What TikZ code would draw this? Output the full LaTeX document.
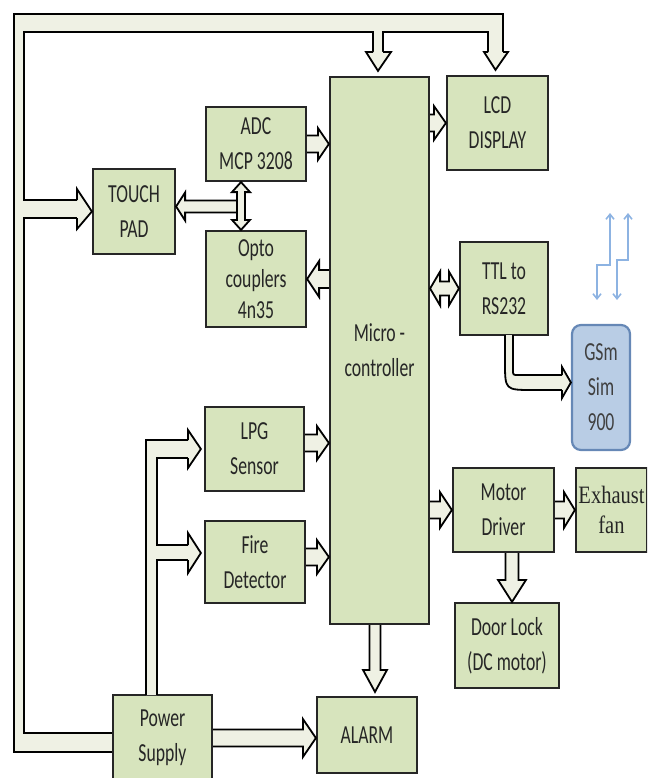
\documentclass[tikz,border=0pt]{standalone}
\usepackage{fontspec}
\setmainfont[FakeStretch=0.68]{Carlito}
\newfontfamily\serifold[FakeStretch=0.82]{Liberation Serif}
\usetikzlibrary{arrows.meta,calc}
\definecolor{boxgreen}{HTML}{D7E4BD}
\definecolor{arrcream}{HTML}{EFF1E4}
\definecolor{gsmblue}{HTML}{B9CDE5}
\definecolor{gsmedge}{HTML}{6688B6}
\definecolor{radioblue}{HTML}{8DB3E2}
% block arrow: start, end, half shaft, half head, head length
\newcommand{\fatarrow}[5]{%
  \coordinate (fs) at #1; \coordinate (fe) at #2;
  \coordinate (fb) at ($(fe)!#5!(fs)$);
  \filldraw[fatarr] ($(fs)!#3!90:(fe)$) -- ($(fb)!#3!-90:(fs)$) -- ($(fb)!#4!-90:(fs)$)
    -- (fe) -- ($(fb)!#4!90:(fs)$) -- ($(fb)!#3!90:(fs)$) -- ($(fs)!#3!-90:(fe)$);}
\newcommand{\fatarrowboth}[5]{%
  \coordinate (fs) at #1; \coordinate (fe) at #2;
  \coordinate (fa) at ($(fs)!#5!(fe)$); \coordinate (fb) at ($(fe)!#5!(fs)$);
  \filldraw[fatarr] (fs) -- ($(fa)!#4!90:(fe)$) -- ($(fa)!#3!90:(fe)$) -- ($(fb)!#3!-90:(fs)$)
    -- ($(fb)!#4!-90:(fs)$) -- (fe) -- ($(fb)!#4!90:(fs)$) -- ($(fb)!#3!90:(fs)$)
    -- ($(fa)!#3!-90:(fe)$) -- ($(fa)!#4!-90:(fe)$) -- cycle;}

\begin{document}
\begin{tikzpicture}[x=1pt, y=-1pt,
  blk/.style={draw=black!85, line width=2.2pt, fill=boxgreen, align=center, inner sep=2pt,
    text=black!85, font=\fontsize{26}{35}\selectfont},
  gsmbox/.style={blk, draw=gsmedge, fill=gsmblue, rounded corners=9pt, text=black!75},
  fatarr/.style={fill=arrcream, draw=black, line width=1.8pt, line join=miter},
  fatline/.style={draw=black, line width=1.8pt},
  radio/.style={draw=radioblue, line width=1.6pt,
    {Straight Barb[length=5pt,width=8pt]}-{Straight Barb[length=5pt,width=8pt]}}]
\clip (0,0) rectangle (647,778);
\node[blk, minimum width=99pt, minimum height=547pt] (mcu) at (379.5,350.5) {Micro -\\controller};
\node[blk, minimum width=101pt, minimum height=94pt] (lcd) at (497.5,123) {LCD\\DISPLAY};
\node[blk, minimum width=100pt, minimum height=74pt] (adc) at (256,144) {ADC\\MCP 3208};
\node[blk, minimum width=82pt, minimum height=85pt] (touch) at (134,211.5) {TOUCH\\PAD};
\node[blk, minimum width=100pt, minimum height=96pt, font=\fontsize{26}{31}\selectfont] (opto) at (256,279) {Opto\\couplers\\4n35};
\node[blk, minimum width=88pt, minimum height=93pt] (ttl) at (504,288.5) {TTL to\\RS232};
\node[gsmbox, minimum width=58pt, minimum height=125pt] (gsm) at (601,387.5) {GSm\\Sim\\900};
\node[blk, minimum width=99pt, minimum height=84pt] (lpg) at (254.5,449) {LPG\\Sensor};
\node[blk, minimum width=100pt, minimum height=82pt] (fire) at (255,562) {Fire\\Detector};
\node[blk, minimum width=101pt, minimum height=84pt] (motor) at (503.5,510) {Motor\\Driver};
\node[blk, minimum width=71pt, minimum height=84pt, inner sep=0pt,
  font=\serifold\fontsize{25}{30}\selectfont] (fan) at (611.5,510) {Exhaust\\fan};
\node[blk, minimum width=104pt, minimum height=85pt] (door) at (507,645.5) {Door Lock\\(DC motor)};
\node[blk, minimum width=100pt, minimum height=76pt] (alarm) at (367,735) {ALARM};
\node[blk, minimum width=99pt, minimum height=86pt] (power) at (162.5,738) {Power\\Supply};

% supply bus round the frame
\fill[arrcream] (power.west |- 0,733) -- (24,733) -- (24,32) -- (373,32) -- (373,52) -- (383,52)
  -- (383,32) -- (488,32) -- (488,52) -- (503,52) -- (503,14) -- (14,14) -- (14,752)
  -- (power.west |- 0,752) -- cycle;
\fill[arrcream] (24,200) rectangle (77,218);
\draw[fatline] (power.west |- 0,752) -- (14,752) -- (14,14) -- (503,14) -- (503,52);
\draw[fatline] (power.west |- 0,733) -- (24,733) -- (24,218) -- (77,218);
\draw[fatline] (77,200) -- (24,200) -- (24,32) -- (373,32) -- (373,52);
\draw[fatline] (383,52) -- (383,32) -- (488,32) -- (488,52);
\filldraw[fatarr] (77,218) -- (77,229) -- (touch.west) -- (77,189) -- (77,200);
\filldraw[fatarr] (373,52) -- (366,52) -- ($(mcu.north)+(-1.5,-5)$) -- (391,52) -- (383,52);
\filldraw[fatarr] (488,52) -- (484,52) -- ($(lcd.north)+(-2,-5)$) -- (508,52) -- (503,52);

% supply to the sensors
\fill[arrcream] (146,695) -- (146,440) -- (188,440) -- (188,458) -- (157,458) -- (157,545)
  -- (188,545) -- (188,560) -- (157,560) -- (157,695) -- cycle;
\draw[fatline] (146,695) -- (146,440) -- (188,440);
\draw[fatline] (188,458) -- (157,458) -- (157,545) -- (188,545);
\draw[fatline] (188,560) -- (157,560) -- (157,695);
\filldraw[fatarr] (188,440) -- (188,430) -- ($(lpg.west)+(-3,0)$) -- (188,468) -- (188,458);
\filldraw[fatarr] (188,545) -- (188,533) -- ($(fire.west)+(-3,-9)$) -- (188,573) -- (188,560);

% TTL to GSm
\fill[arrcream] (505,335) -- (505,362) .. controls (505,390) .. (533,390) -- (562,390) -- (562,375)
  -- (518,375) .. controls (513,375) .. (513,370) -- (513,335) -- cycle;
\draw[fatline] (505,335) -- (505,362) .. controls (505,390) .. (533,390) -- (562,390);
\draw[fatline] (513,335) -- (513,370) .. controls (513,375) .. (518,375) -- (562,375);
\filldraw[fatarr] (562,390) -- (562,398) -- ($(gsm.west)+(0,-5)$) -- (562,367) -- (562,375);

% antenna
\draw[radio] (610,213) -- (610,265) -- (597,265) -- (597,300);
\draw[radio] (628,213) -- (628,260) -- (617,260) -- (617,300);

\fatarrow{(adc.east)}{(adc.east -| mcu.west)}{8.5pt}{16pt}{11pt}
\fatarrow{(lcd.west -| mcu.east)}{(lcd.west)}{8.5pt}{17pt}{12pt}
\fatarrow{(opto.east -| mcu.west)}{(opto.east)}{9pt}{18pt}{12pt}
\fatarrowboth{(ttl.west -| mcu.east)}{(ttl.west)}{7pt}{17pt}{10pt}
\fatarrow{($(lpg.east)+(0,-6)$)}{($(lpg.east -| mcu.west)+(0,-6)$)}{8.5pt}{17pt}{12pt}
\fatarrow{($(fire.east)+(0,-5)$)}{($(fire.east -| mcu.west)+(0,-5)$)}{8.5pt}{17pt}{12pt}
\fatarrow{(motor.west -| mcu.east)}{(motor.west)}{8.5pt}{18pt}{12pt}
\fatarrow{(motor.east)}{(fan.west)}{8.5pt}{18pt}{11pt}
\coordinate (md) at ($(motor.south)+(8.5,0)$);
\fatarrow{(md)}{(md |- door.north)}{6.5pt}{14pt}{22pt}
\coordinate (ms) at ($(mcu.south)+(-4.5,0)$);
\fatarrow{(ms)}{($(ms |- alarm.north)+(0,-4)$)}{5.5pt}{12pt}{22pt}
\fatarrow{(power.east)}{(power.east -| alarm.west)}{8.5pt}{19pt}{13pt}
\fatarrow{($(touch.east)+(63,-5)$)}{($(touch.east)+(0,-5)$)}{6pt}{14pt}{9pt}
\fatarrowboth{($(adc.south)+(-15,0)$)}{($(opto.north)+(-15,0)$)}{4pt}{9pt}{10pt}
\end{tikzpicture}
\end{document}
